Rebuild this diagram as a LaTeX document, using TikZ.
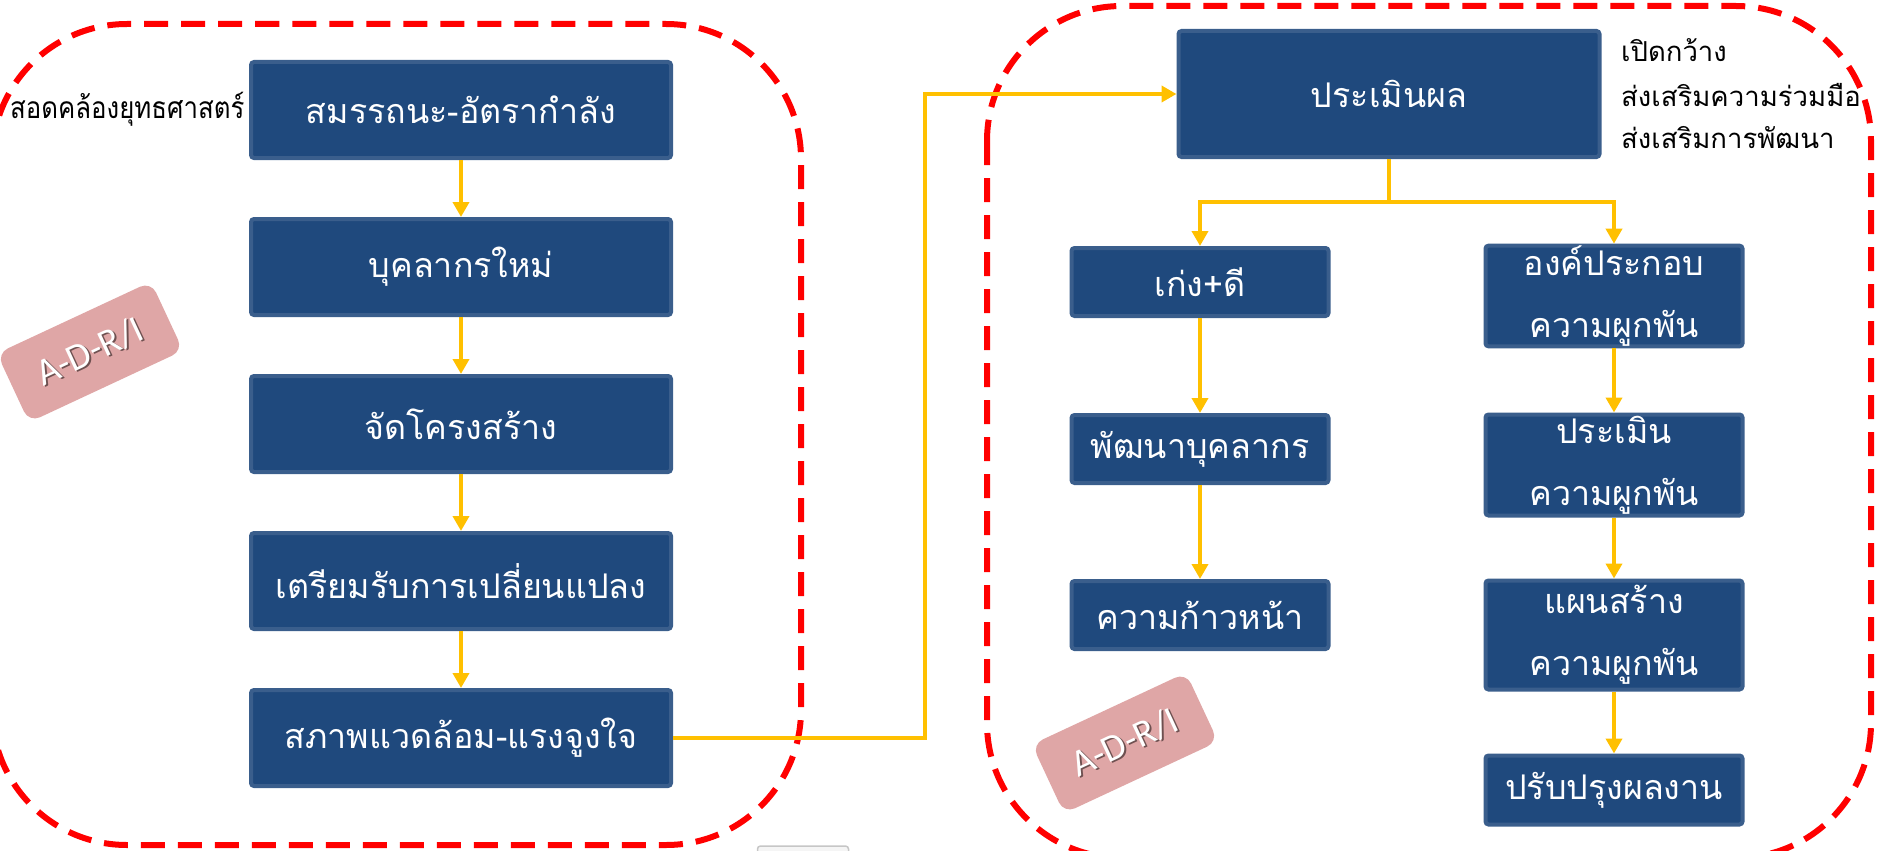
\documentclass[tikz,border=0pt]{standalone}
\usepackage{fontspec}
\newfontfamily\thaifont[Script=Thai]{Loma}
\newfontfamily\badgefont{Carlito}
\usetikzlibrary{arrows.meta}
\definecolor{boxfill}{RGB}{31,73,125}
\definecolor{boxline}{RGB}{58,94,140}
\definecolor{flow}{RGB}{255,192,0}
\definecolor{frame}{RGB}{255,0,0}
\definecolor{badgepink}{RGB}{223,166,166}
\definecolor{badgeshade}{RGB}{110,80,80}

% white label text with a small drop shadow
\newcommand{\shadowlabel}[1]{%
  \makebox[0pt][l]{\hspace{1.5pt}\raisebox{-1.5pt}{\textcolor{badgeshade}{#1}}}%
  \textcolor{white}{#1}}

\begin{document}
\begin{tikzpicture}[x=1pt,y=-1pt,
  stepbox/.style={rectangle, fill=boxfill, draw=boxline, line width=4pt,
    rounded corners=3pt, text=white, align=center, inner sep=0pt,
    font=\thaifont\fontsize{34}{62}\selectfont},
  widebox/.style={stepbox, minimum width=420pt, minimum height=96pt},
  smallbox/.style={stepbox, minimum width=257pt},
  flowline/.style={draw=flow, line width=4pt},
  flowarrow/.style={flowline, -{Triangle[width=16pt,length=15pt]}},
  zone/.style={draw=frame, line width=6pt, dash pattern=on 24pt off 13pt, rounded corners=135pt},
  note/.style={anchor=west, inner sep=0pt, text=black, font=\thaifont\fontsize{27.5}{34}\selectfont},
  badgebox/.style={rectangle, rotate=25, fill=badgepink, rounded corners=12pt,
    minimum width=170pt, minimum height=76pt},
  badgetext/.style={rotate=25, inner sep=0pt, font=\badgefont\fontsize{38}{38}\selectfont},
]
\path[use as bounding box] (0,0) rectangle (1883,851);
\clip (0,0) rectangle (1883,851);

% dashed grouping frames
\draw[zone] (-8,24) rectangle (801,845);
\draw[zone] (987,6) rectangle (1871,858);

% partly visible element at the bottom edge
\node[rectangle, fill=gray!8, draw=gray!45, line width=1.5pt, rounded corners=3pt,
  minimum width=91pt, minimum height=20pt] (stub) at (803,856) {};

% left column
\node[widebox] (b1) at (461,110) {สมรรถนะ-อัตรากำลัง};
\node[widebox] (b2) at (461,267) {บุคลากรใหม่};
\node[widebox] (b3) at (461,424) {จัดโครงสร้าง};
\node[widebox] (b4) at (461,581) {เตรียมรับการเปลี่ยนแปลง};
\node[widebox] (b5) at (461,738) {สภาพแวดล้อม-แรงจูงใจ};

\node[note, font=\thaifont\fontsize{30}{34}\selectfont, xscale=0.86] (align) at (10,109) {สอดคล้องยุทธศาสตร์};

% evaluation block
\node[stepbox, minimum width=421pt, minimum height=126pt] (eval) at (1389,94) {ประเมินผล};
\node[note] (n1) at (1621,50) {เปิดกว้าง};
\node[note] (n2) at (1621,95) {ส่งเสริมความร่วมมือ};
\node[note] (n3) at (1621,138) {ส่งเสริมการพัฒนา};

% right branch, left column
\node[smallbox, minimum height=68pt] (l1) at (1200,282) {เก่ง+ดี};
\node[smallbox, minimum height=68pt] (l2) at (1200,449) {พัฒนาบุคลากร};
\node[smallbox, minimum height=68pt] (l3) at (1200,615) {ความก้าวหน้า};

% right branch, right column
\node[smallbox, minimum height=100pt] (r1) at (1614,296) {องค์ประกอบ\\ความผูกพัน};
\node[smallbox, minimum height=101pt] (r2) at (1614,465) {ประเมิน\\ความผูกพัน};
\node[smallbox, minimum height=109pt] (r3) at (1614,635) {แผนสร้าง\\ความผูกพัน};
\node[smallbox, minimum height=69pt] (r4) at (1614,790) {ปรับปรุงผลงาน};

% connectors
\draw[flowarrow] (b1) -- (b2);
\draw[flowarrow] (b2) -- (b3);
\draw[flowarrow] (b3) -- (b4);
\draw[flowarrow] (b4) -- (b5);

\coordinate (bend) at (925,738);
\draw[flowarrow] (b5.east) -- (bend) |- (eval.west);

\coordinate (split) at (1389,202);
\draw[flowline] (eval.south) -- (split);
\draw[flowarrow] (split) -| (l1.north);
\draw[flowarrow] (split) -| (r1.north);

\draw[flowarrow] (l1) -- (l2);
\draw[flowarrow] (l2) -- (l3);
\draw[flowarrow] (r1) -- (r2);
\draw[flowarrow] (r2) -- (r3);
\draw[flowarrow] (r3) -- (r4);

% A-D-R/I badges
\node[badgebox] (badgeL) at (90,352) {};
\node[badgetext] (badgeLt) at (badgeL.center) {\shadowlabel{A-D-R/I}};

\node[badgebox] (badgeR) at (1125,743) {};
\node[badgetext] (badgeRt) at (badgeR.center) {\shadowlabel{A-D-R/I}};
\end{tikzpicture}
\end{document}
